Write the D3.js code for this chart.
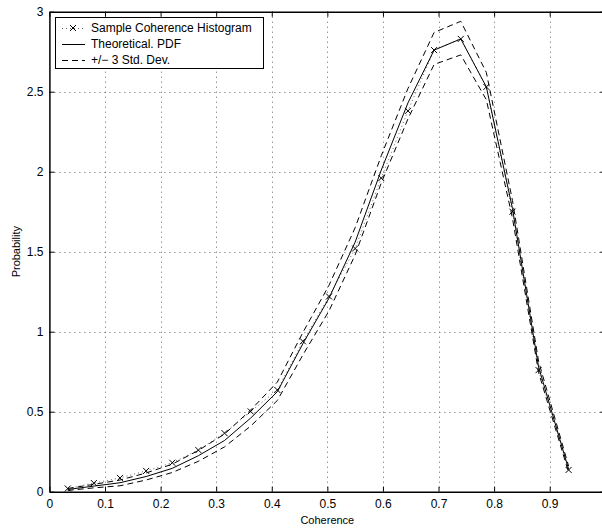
<!DOCTYPE html>
<html>
<head>
<meta charset="utf-8">
<script src="https://cdn.jsdelivr.net/npm/d3@7"></script>
<style>
  html, body { margin: 0; padding: 0; background: #fff; }
  svg { display: block; }
  text { font-family: "Liberation Sans", Arial, Helvetica, sans-serif; }
</style>
</head>
<body>
<svg id="chart" width="602" height="529"></svg>
<script>
// ---- data ----
const coherence = [0.033, 0.080, 0.127, 0.174, 0.221, 0.268, 0.315, 0.362, 0.410, 0.456,
                   0.503, 0.550, 0.597, 0.645, 0.692, 0.740, 0.786, 0.833, 0.880, 0.934];
const histogram = [0.020, 0.054, 0.086, 0.130, 0.181, 0.260, 0.366, 0.502, 0.636, 0.940,
                   1.220, 1.520, 1.960, 2.380, 2.760, 2.830, 2.530, 1.750, 0.760, 0.136];
const theoretical = [0.014, 0.035, 0.056, 0.095, 0.146, 0.225, 0.320, 0.460, 0.625, 0.925,
                     1.210, 1.560, 2.010, 2.430, 2.760, 2.830, 2.530, 1.770, 0.780, 0.140];
const upperBand = [0.020, 0.046, 0.073, 0.117, 0.172, 0.258, 0.360, 0.510, 0.685, 0.995,
                   1.290, 1.650, 2.100, 2.520, 2.870, 2.940, 2.620, 1.820, 0.815, 0.160];
const lowerBand = [0.008, 0.024, 0.037, 0.073, 0.120, 0.190, 0.280, 0.410, 0.570, 0.855,
                   1.130, 1.480, 1.930, 2.330, 2.670, 2.730, 2.450, 1.710, 0.745, 0.120];
const xTicks = [0, 0.1, 0.2, 0.3, 0.4, 0.5, 0.6, 0.7, 0.8, 0.9];
const yTicks = [0, 0.5, 1, 1.5, 2, 2.5, 3];
const legendLabels = ["Sample Coherence Histogram", "Theoretical. PDF", "+/\u2212 3 Std. Dev."];
const xLabel = "Coherence";
const yLabel = "Probability";

// ---- layout ----
const svg = d3.select("#chart");
const pL = 49.4, pR = 605.3, pT = 11.7, pB = 491.7;
const x = d3.scaleLinear().domain([0, 1]).range([pL, pR]);
const y = d3.scaleLinear().domain([0, 3]).range([pB, pT]);

// grid
const grid = svg.append("g").attr("stroke", "#000").attr("stroke-width", 1)
  .attr("stroke-dasharray", "1,4").attr("opacity", 0.6);
xTicks.filter(d => d > 0).forEach(d => {
  grid.append("line").attr("x1", Math.round(x(d)) + 0.5).attr("x2", Math.round(x(d)) + 0.5)
    .attr("y1", pT).attr("y2", pB);
});
yTicks.filter(d => d > 0 && d < 3).forEach(d => {
  grid.append("line").attr("y1", Math.round(y(d)) + 0.5).attr("y2", Math.round(y(d)) + 0.5)
    .attr("x1", pL).attr("x2", pR);
});

// axes
const fmt = d => d3.format("")(d);
const xAxis = svg.append("g").attr("transform", `translate(0,${pB})`)
  .call(d3.axisBottom(x).tickValues(xTicks).tickSizeInner(-5).tickSizeOuter(0).tickPadding(8).tickFormat(fmt));
const xAxisTop = svg.append("g").attr("transform", `translate(0,${pT})`)
  .call(d3.axisTop(x).tickValues(xTicks).tickSizeInner(-5).tickSizeOuter(0).tickFormat(""));
const yAxis = svg.append("g").attr("transform", `translate(${pL},0)`)
  .call(d3.axisLeft(y).tickValues(yTicks).tickSizeInner(-5).tickSizeOuter(0).tickPadding(6).tickFormat(fmt));
const yAxisRight = svg.append("g").attr("transform", `translate(${pR},0)`)
  .call(d3.axisRight(y).tickValues(yTicks).tickSizeInner(-5).tickSizeOuter(0).tickFormat(""));
[xAxis, xAxisTop, yAxis, yAxisRight].forEach(g => {
  g.selectAll(".domain").attr("stroke", "#000").attr("stroke-width", 1.5);
  g.selectAll(".tick line").attr("stroke", "#000").attr("stroke-width", 1);
  g.selectAll("text").attr("font-size", 12).attr("fill", "#000")
    .attr("font-family", "'Liberation Sans', Arial, sans-serif");
});

// axis labels
svg.append("text").attr("x", x(0.5)).attr("y", 524).attr("text-anchor", "middle")
  .attr("font-size", 11).text(xLabel);
svg.append("text").attr("transform", `translate(20,${y(1.5)}) rotate(-90)`)
  .attr("text-anchor", "middle").attr("font-size", 11).text(yLabel);

// lines
const lineGen = vals => d3.line().x((d, i) => x(coherence[i])).y(d => y(d))(vals);
const plot = svg.append("g");
plot.append("path").attr("d", lineGen(upperBand)).attr("fill", "none").attr("stroke", "#000")
  .attr("stroke-width", 1).attr("stroke-dasharray", "6,4");
plot.append("path").attr("d", lineGen(lowerBand)).attr("fill", "none").attr("stroke", "#000")
  .attr("stroke-width", 1).attr("stroke-dasharray", "6,4");
plot.append("path").attr("d", lineGen(theoretical)).attr("fill", "none").attr("stroke", "#000")
  .attr("stroke-width", 1);
plot.append("path").attr("d", lineGen(histogram)).attr("fill", "none").attr("stroke", "#000")
  .attr("stroke-width", 1).attr("stroke-dasharray", "1,3").attr("opacity", 0.6);
const s = 3;
const marks = plot.append("g").attr("stroke", "#000").attr("stroke-width", 1);
histogram.forEach((v, i) => {
  const cx = x(coherence[i]), cy = y(v);
  marks.append("line").attr("x1", cx - s).attr("y1", cy - s).attr("x2", cx + s).attr("y2", cy + s);
  marks.append("line").attr("x1", cx - s).attr("y1", cy + s).attr("x2", cx + s).attr("y2", cy - s);
});

// legend
const lg = svg.append("g");
lg.append("rect").attr("x", 55.5).attr("y", 17.5).attr("width", 208).attr("height", 51)
  .attr("fill", "#fff").attr("stroke", "#000").attr("stroke-width", 1);
const rowsY = [28, 44, 60];
legendLabels.forEach((t, i) => {
  lg.append("text").attr("x", 91).attr("y", rowsY[i] + 4).attr("font-size", 12).text(t);
});
lg.append("line").attr("x1", 62).attr("x2", 84).attr("y1", rowsY[0] + 0.5).attr("y2", rowsY[0] + 0.5)
  .attr("stroke", "#000").attr("stroke-dasharray", "1,3").attr("opacity", 0.6);
lg.append("line").attr("x1", 73 - s).attr("y1", rowsY[0] - s).attr("x2", 73 + s).attr("y2", rowsY[0] + s).attr("stroke", "#000");
lg.append("line").attr("x1", 73 - s).attr("y1", rowsY[0] + s).attr("x2", 73 + s).attr("y2", rowsY[0] - s).attr("stroke", "#000");
lg.append("line").attr("x1", 62).attr("x2", 85).attr("y1", rowsY[1] + 0.5).attr("y2", rowsY[1] + 0.5).attr("stroke", "#000");
lg.append("line").attr("x1", 62).attr("x2", 85).attr("y1", rowsY[2] + 0.5).attr("y2", rowsY[2] + 0.5)
  .attr("stroke", "#000").attr("stroke-dasharray", "6,4");
</script>
</body>
</html>
